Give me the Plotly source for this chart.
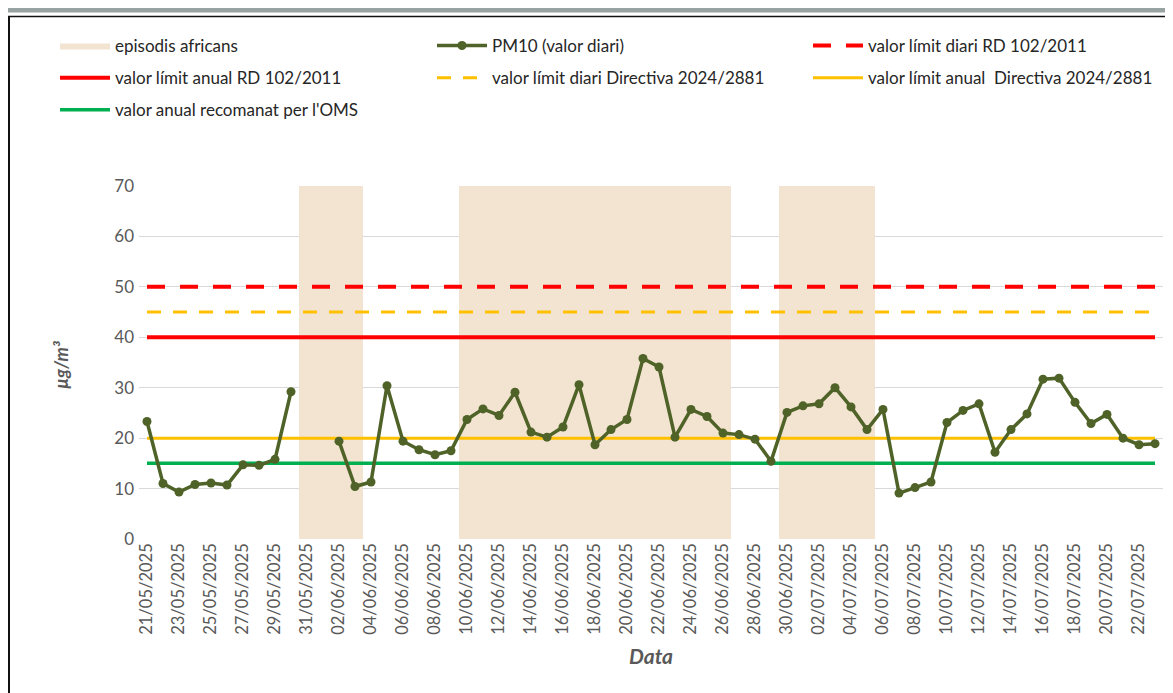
import pandas as pd
import plotly.graph_objects as go

# ---- data ----
start_date = "2025-05-21"
pm10 = [23.3, 11.0, 9.3, 10.8, 11.1, 10.7, 14.7, 14.6, 15.8, 29.2,
        None, None, 19.4, 10.4, 11.3, 30.4, 19.4, 17.7, 16.7, 17.5,
        23.7, 25.8, 24.5, 29.1, 21.2, 20.2, 22.2, 30.6, 18.7, 21.7,
        23.7, 35.8, 34.1, 20.2, 25.7, 24.3, 21.0, 20.7, 19.8, 15.4,
        25.1, 26.4, 26.8, 30.0, 26.2, 21.7, 25.7, 9.1, 10.2, 11.3,
        23.1, 25.5, 26.8, 17.2, 21.7, 24.8, 31.7, 31.9, 27.1, 22.9,
        24.7, 20.0, 18.7, 18.9]
dates = pd.date_range(start_date, periods=len(pm10), freq="D")

episode_start = ["2025-05-31", "2025-06-10", "2025-06-30"]
episode_end = ["2025-06-03", "2025-06-26", "2025-07-05"]

limit_daily_rd = 50
limit_annual_rd = 40
limit_daily_dir = 45
limit_annual_dir = 20
who_annual = 15

y_ticks = [0, 10, 20, 30, 40, 50, 60, 70]
y_title = "µg/m³"
x_title = "Data"

# ---- geometry (page px; page body has an 8px margin) ----
OFF = 8
W, H = 1173 - OFF, 693 - OFF
PL, PR, PT, PB = 139, 1163, 186, 539          # plot area on the page
L, R, T, B = PL - OFF, W - (PR - OFF), PT - OFF, H - (PB - OFF)
pw, ph = W - L - R, H - T - B


def px_x(p):
    return (p - OFF - L) / pw


def px_y(p):
    return (PB - p) / ph


half = pd.Timedelta(hours=12)
bx, by = [], []
for s, e in zip(episode_start, episode_end):
    s0 = pd.Timestamp(s) - half
    e0 = pd.Timestamp(e) + half
    bx += [s0, e0, e0, s0, s0, None]
    by += [y_ticks[0], y_ticks[0], y_ticks[-1], y_ticks[-1], y_ticks[0], None]

fig = go.Figure()
fig.add_trace(go.Scatter(x=bx, y=by, fill="toself", fillcolor="#F2E4D0",
                         line=dict(width=0, color="#F2E4D0"), mode="lines",
                         name="episodis africans", legend="legend",
                         legendgroup="a", legendrank=1, hoverinfo="skip"))


def hline(val, name, color, width, dash, leg, rank):
    fig.add_trace(go.Scatter(x=dates, y=[val] * len(dates), mode="lines",
                             line=dict(color=color, width=width, dash=dash),
                             name=name, legend=leg, legendgroup=name,
                             legendrank=rank))


hline(limit_daily_rd, "valor límit diari RD 102/2011", "#FF0000", 4, "18px,15px", "legend3", 1)
hline(limit_annual_rd, "valor límit anual RD 102/2011", "#FF0000", 4, "solid", "legend", 2)
hline(limit_daily_dir, "valor límit diari Directiva 2024/2881", "#FFC000", 3, "14px,12px", "legend2", 2)
hline(limit_annual_dir, "valor límit anual  Directiva 2024/2881", "#FFC000", 3, "solid", "legend3", 2)
hline(who_annual, "valor anual recomanat per l'OMS", "#00B050", 3.5, "solid", "legend", 3)

fig.add_trace(go.Scatter(x=dates, y=pm10, mode="lines+markers",
                         line=dict(color="#4F6228", width=3.5),
                         marker=dict(color="#4F6228", size=9),
                         connectgaps=False, name="PM10 (valor diari)",
                         legend="legend2", legendgroup="pm", legendrank=1))

font = "Lato, 'Open Sans', sans-serif"
leg_common = dict(orientation="v", xref="container", yref="container",
                  xanchor="left", yanchor="top", itemwidth=50,
                  traceorder="grouped", tracegroupgap=7,
                  font=dict(size=17, color="#262626"),
                  bgcolor="rgba(0,0,0,0)")
ytop = 1 - (20 / H)
fig.update_layout(
    width=W, height=H,
    margin=dict(l=L, r=R, t=T, b=B, autoexpand=False),
    paper_bgcolor="white", plot_bgcolor="white",
    font=dict(family=font, size=15, color="#595959"),
    showlegend=True,
    legend=dict(x=(55 - OFF) / W, y=ytop, **leg_common),
    legend2=dict(x=(432 - OFF) / W, y=ytop, **leg_common),
    legend3=dict(x=(808 - OFF) / W, y=ytop, **leg_common),
    xaxis=dict(type="date",
               range=[dates[0] - half, dates[-1] + half],
               tickformat="%d/%m/%Y", tick0=dates[0], dtick=2 * 86400000,
               tickangle=-90, showgrid=False, showline=False, ticks="",
               tickfont=dict(size=16.5, color="#595959"),
               title=dict(text="<b><i>" + x_title + "</i></b>",
                          font=dict(size=21, color="#595959"), standoff=15)),
    yaxis=dict(range=[y_ticks[0], y_ticks[-1]], tickvals=y_ticks,
               showgrid=True, gridcolor="#D9D9D9", gridwidth=1.3,
               zeroline=False, showline=False, ticks="",
               ticklabelstandoff=4,
               tickfont=dict(size=17, color="#595959")),
)

fig.add_annotation(text="<b><i>" + y_title + "</i></b>", textangle=-90,
                   xref="paper", yref="paper", x=px_x(61), y=px_y(365),
                   xanchor="center", yanchor="middle", showarrow=False,
                   font=dict(size=18, color="#595959"))

# frame decorations
fig.add_shape(type="rect", xref="paper", yref="paper",
              x0=px_x(8), x1=px_x(1200), y0=px_y(12.5), y1=px_y(7.5),
              fillcolor="#98A3A1", line=dict(width=0), layer="above")
fig.add_shape(type="line", xref="paper", yref="paper",
              x0=px_x(8), x1=px_x(1200), y0=px_y(16.5), y1=px_y(16.5),
              line=dict(color="#111111", width=1.5))
fig.add_shape(type="line", xref="paper", yref="paper",
              x0=px_x(9), x1=px_x(9), y0=px_y(16), y1=px_y(720),
              line=dict(color="#111111", width=2))

fig.write_html("out.html")
